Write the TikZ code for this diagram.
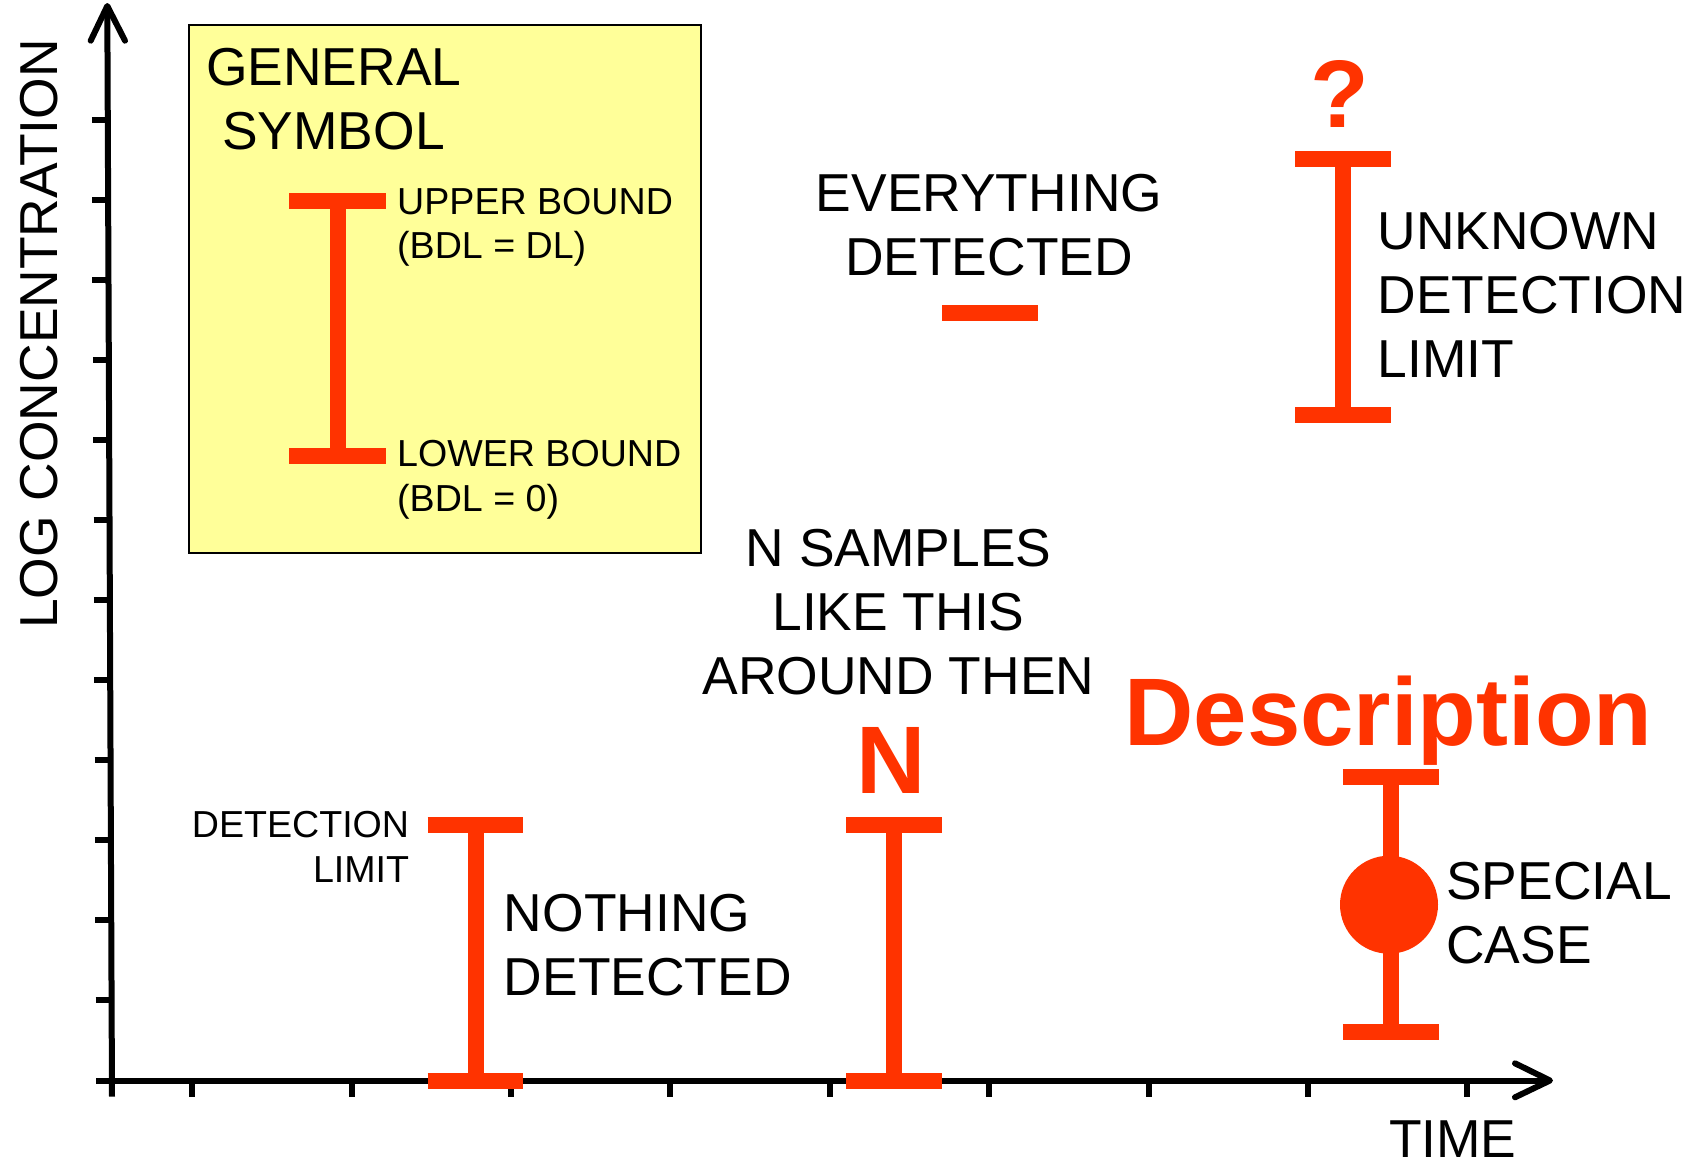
\documentclass[tikz,border=0pt]{standalone}
\usepackage{fontspec}
\setmainfont{Liberation Sans}
\definecolor{bred}{HTML}{FF3300}
\definecolor{boxyellow}{HTML}{FFFF99}
\begin{document}
\begin{tikzpicture}[x={(1pt,0pt)}, y={(0pt,-1pt)},
  axisline/.style={line width=6pt, black},
  tickline/.style={line width=6pt, black, line cap=butt},
  barline/.style={line width=16pt, bred, line cap=butt},
  bigtxt/.style={inner sep=0pt, font=\fontsize{53.4pt}{63.8pt}\selectfont},
  smalltxt/.style={inner sep=0pt, font=\fontsize{37.6pt}{44.5pt}\selectfont},
  boldtxt/.style={inner sep=0pt, text=bred, font=\fontsize{96pt}{110pt}\selectfont\bfseries},
]
\useasboundingbox[fill=white] (0,0) rectangle (1701,1162);

% general symbol box
\draw[fill=boxyellow, line width=1.5pt] (189,25) rectangle (701,553);

% axes
\coordinate (ybot) at (112,1096.7);
\coordinate (ytop) at (107.3,6);
\coordinate (xstart) at (96,1080.5);
\coordinate (xend) at (1550,1080.5);
\draw[axisline] (ybot) -- (ytop);
\draw[axisline, line cap=round, line join=round] (90.7,40.7) -- (ytop) -- (125,40.7);
\draw[axisline] (xstart) -- (xend);
\draw[axisline, line cap=round, line join=round] (1515,1063.3) -- (xend) -- (1515,1097.3);

% ticks
\foreach \k [evaluate=\k as \ty using 1080.5-80.04*\k,
             evaluate=\k as \tx using 112-(1096.7-(1080.5-80.04*\k))*0.004309] in {1,...,12}
  \draw[tickline] (\tx-16,\ty) -- (\tx,\ty);
\foreach \k [evaluate=\k as \tx using 192.2+159.4*\k] in {0,...,8}
  \draw[tickline] (\tx,1080.5) -- (\tx,1096.7);

% general symbol bar
\draw[barline] (289.3,200.7) -- (386,200.7);
\draw[barline] (337.7,200.7) -- (337.7,456.3);
\draw[barline] (289.3,456.3) -- (386,456.3);

% everything detected dash
\draw[barline] (942.3,312.5) -- (1037.7,312.5);

% unknown detection limit bar
\draw[barline] (1295,159.2) -- (1391,159.2);
\draw[barline] (1343,159.2) -- (1343,415.3);
\draw[barline] (1295,415.3) -- (1391,415.3);

% nothing detected bar
\draw[barline] (427.7,824.7) -- (523.3,824.7);
\draw[barline] (476,824.7) -- (476,1080.5);
\draw[barline] (427.7,1080.5) -- (523.3,1080.5);

% N samples bar
\draw[barline] (846,824.5) -- (941.7,824.5);
\draw[barline] (893.5,824.5) -- (893.5,1080.5);
\draw[barline] (846,1080.5) -- (941.7,1080.5);

% special case bar
\draw[barline] (1342.8,776.5) -- (1438.9,776.5);
\draw[barline] (1390.8,776.5) -- (1390.8,1032.4);
\draw[barline] (1342.8,1032.4) -- (1438.9,1032.4);
\fill[bred] (1389,904.7) circle[radius=49pt];

% texts (multi-line nodes: base anchor = baseline of last line)
\node[bigtxt, align=left, anchor=base west] (general) at (206,149.5) {GENERAL\\\hspace*{16pt}SYMBOL};
\node[smalltxt, align=left, anchor=base west] (upper) at (397,258.5) {UPPER BOUND\\(BDL = DL)};
\node[smalltxt, align=left, anchor=base west] (lower) at (397,511.2) {LOWER BOUND\\(BDL = 0)};
\node[bigtxt, align=center, anchor=base] (everything) at (989,275) {EVERYTHING\\DETECTED};
\node[boldtxt, anchor=base] (qmark) at (1340,127.7) {?};
\node[bigtxt, align=left, anchor=base west] (unknown) at (1377.5,377.3) {UNKNOWN\\DETECTION\\LIMIT};
\node[bigtxt, align=center, anchor=base] (nsamples) at (898.5,694.3) {N SAMPLES\\LIKE THIS\\AROUND THEN};
\node[boldtxt, anchor=base] (nlabel) at (891,793.3) {N};
\node[smalltxt, align=right, anchor=base east] (detlimit) at (409.3,882.3) {DETECTION\\LIMIT};
\node[bigtxt, align=left, anchor=base west] (nothing) at (503.7,995) {NOTHING\\DETECTED};
\node[boldtxt, anchor=base] (descr) at (1388.5,745) {Description};
\node[bigtxt, align=left, anchor=base west] (special) at (1446,963) {SPECIAL\\CASE};
\node[bigtxt, anchor=base] (time) at (1452.8,1157.5) {TIME};
\node[bigtxt, anchor=base, rotate=90] (ylabel) at (57,334) {LOG CONCENTRATION};
\end{tikzpicture}
\end{document}
